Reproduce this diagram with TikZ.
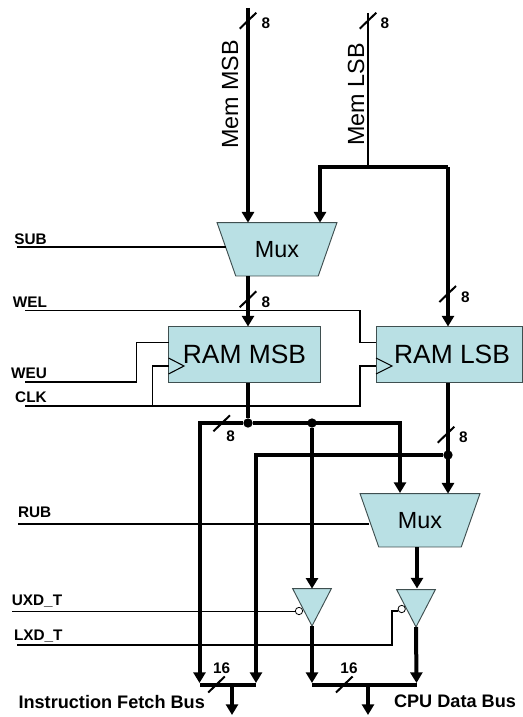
\documentclass[tikz,border=0pt]{standalone}
\usepackage{fontspec}
\setmainfont{Liberation Sans}
\usetikzlibrary{arrows.meta,shapes.geometric}
\definecolor{cellblue}{HTML}{B9E0E4}
\definecolor{celledge}{HTML}{3F4F50}

\newcommand{\slashmark}[2]{\draw[slash] (#1,#2) ++(-8.3,8) -- ++(16.6,-16);}

\begin{document}
\begin{tikzpicture}[x=0.75pt, y=-0.75pt, node distance={20mm},
    blockbox/.style={draw=celledge, fill=cellblue, line width=0.7pt, inner sep=0pt, outer sep=0pt},
    ram/.style={blockbox, rectangle, font=\fontsize{19.8pt}{22pt}\selectfont, minimum height=42pt},
    mux/.style={blockbox, trapezium, shape border rotate=180, trapezium left angle=58.5, trapezium right angle=58.5, trapezium stretches=true, minimum width=90pt, minimum height=40pt, font=\fontsize{17.5pt}{20pt}\selectfont},
    buffer/.style={blockbox, isosceles triangle, shape border rotate=270, isosceles triangle stretches=true, minimum width=29pt, minimum height=28pt, anchor=apex},
    bubble/.style={draw=black, fill=white, circle, line width=0.6pt, minimum size=5.5pt, inner sep=0pt},
    dot/.style={fill=black, circle, minimum size=7pt, inner sep=0pt},
    wire/.style={line width=1.2pt},
    bus/.style={line width=3pt},
    busin/.style={line width=3pt, -{Triangle[length=8pt, width=9pt]}},
    slash/.style={line width=1.5pt},
    memname/.style={font=\fontsize{17.5pt}{20pt}\selectfont, rotate=90},
    sig/.style={font=\fontsize{11.5pt}{13pt}\selectfont\bfseries},
    busname/.style={font=\fontsize{13.6pt}{16pt}\selectfont\bfseries}]
    \useasboundingbox (0,0) rectangle (522,717);

    % blocks
    \node[mux] (muxu) at (277,249.3) {Mux};
    \node[mux] (muxl) at (420,520.3) {Mux};
    \node[ram, minimum width=114pt] (rammsb) at (244.5,354.5) {RAM MSB};
    \node[ram, minimum width=109.5pt] (ramlsb) [right of=rammsb, node distance=153.4pt] {\hspace*{4.5pt}RAM LSB};
    \node[buffer] (bufu) at (312,626) {};
    \node[buffer] (bufl) at (416,627) {};
    \node[bubble] (bubu) at (299,611) {};
    \node[bubble] (bubl) at (401.7,609) {};
    \draw[draw=black, line width=0.8pt] (rammsb.west |- 0,358) -- (184,366) -- (rammsb.west |- 0,374);
    \draw[draw=black, line width=0.8pt] (ramlsb.west |- 0,358) -- (392,366) -- (ramlsb.west |- 0,374);

    % ends of the connectors
    \coordinate (msbtop) at (248,8);
    \coordinate (lsbtop) at (368,13);
    \coordinate (lsbtee) at (368,167);
    \coordinate (lsbbus) at (320,167);
    \coordinate (lsbram) at (448,167);
    \coordinate (subin) at (17,247);
    \coordinate (welin) at (25,310.5);
    \coordinate (welturn) at (360,342.5);
    \coordinate (weuin) at (25,382);
    \coordinate (weuturn) at (136.5,342.5);
    \coordinate (clkin) at (25,406);
    \coordinate (clkturn) at (360,366);
    \coordinate (clkup) at (152.5,366);
    \coordinate (rubin) at (18,524);
    \coordinate (uxdin) at (12,611.5);
    \coordinate (lxdin) at (17,645);
    \coordinate (lxdturn) at (392,611);
    \node[dot] (dotm) at (248,423) {};
    \node[dot] (dotb) at (312,423) {};
    \node[dot] (dotl) at (448,455) {};
    \coordinate (muxa) at (400,493);
    \coordinate (muxout) at (417,547);
    \coordinate (bufin) at (417,588.5);
    \coordinate (fetchl) at (199.5,683);
    \coordinate (fetchr) at (256,683);
    \coordinate (datal) at (312,683);
    \coordinate (datar) at (416.5,683);
    \coordinate (fetchbus) at (232,685);
    \coordinate (databus) at (368,685);
    \coordinate (fetchout) at (232,715);
    \coordinate (dataout) at (368,715);

    % upper part
    \draw[busin] (msbtop) -- (msbtop |- muxu.north);
    \draw[line width=1.9pt] (lsbtop) -- (lsbtee);
    \draw[busin] (lsbram) -- (lsbbus) -- (lsbbus |- muxu.north);
    \draw[busin] (lsbram) -- (lsbram |- ramlsb.north);
    \draw[busin] (msbtop |- muxu.south) -- (msbtop |- rammsb.north);

    % control wires
    \draw[wire] (subin) -- (subin -| muxu.west);
    \draw[wire] (welin) -| (welturn) -- (welturn -| ramlsb.west);
    \draw[wire] (weuin) -| (weuturn) -- (weuturn -| rammsb.west);
    \draw[wire] (clkin) -| (clkturn) -- (clkturn -| ramlsb.west);
    \draw[wire] (clkin -| clkup) -- (clkup) -- (clkup -| rammsb.west);
    \draw[wire] (rubin) -- (rubin -| muxl.west);
    \draw[wire] (uxdin) -- (bubu.west |- uxdin);
    \draw[wire] (lxdin) -| (lxdturn) -- (bubl.west |- lxdturn);

    % lower part
    \draw[bus] (rammsb.south -| dotm) -- (dotm);
    \draw[busin] (dotm) -| (fetchl);
    \draw[busin] (dotm) -| (muxa);
    \draw[busin] (dotb) -- (dotb |- bufu.north);
    \draw[busin] (ramlsb.south -| lsbram) -- (lsbram |- muxl.north);
    \draw[busin] (dotl) -| (fetchr);
    \draw[busin] (muxout) -- (bufin);
    \draw[busin] (bufu.south) -- (datal);
    \draw[busin] (bufl.south) -- (datar);
    \draw[bus] (fetchl |- fetchbus) -- (fetchr |- fetchbus);
    \draw[bus] (datal |- databus) -- (datar |- databus);
    \draw[busin] (fetchbus) -- (fetchout);
    \draw[busin] (databus) -- (dataout);

    % bus width marks
    \slashmark{248}{20.7}
    \slashmark{368}{20.7}
    \slashmark{248}{299.3}
    \slashmark{447.7}{294}
    \slashmark{221.7}{423.3}
    \slashmark{446}{434.7}
    \slashmark{216.5}{684.5}
    \slashmark{344.3}{684.5}

    % labels
    \node[memname] (memm) at (230,94.5) {Mem MSB};
    \node[memname] (meml) at (356,94.5) {Mem LSB};
    \node[sig] (w1) at (266,23.7) {8};
    \node[sig] (w2) at (385,23.7) {8};
    \node[sig] (w3) at (266,302.3) {8};
    \node[sig] (w4) at (465.3,297.3) {8};
    \node[sig] (w5) at (230.7,436.7) {8};
    \node[sig] (w6) at (463.3,437.3) {8};
    \node[sig] (w7) at (221.7,668.7) {16};
    \node[sig] (w8) at (349,668.7) {16};
    \node[sig] (sub) at (30.5,239) {SUB};
    \node[sig] (wel) at (30,302) {WEL};
    \node[sig] (weu) at (29,373.7) {WEU};
    \node[sig] (clk) at (31,397.7) {CLK};
    \node[sig] (rub) at (34.7,512.7) {RUB};
    \node[sig] (uxd) at (37,601) {UXD\_T};
    \node[sig] (lxd) at (38.3,636.3) {LXD\_T};
    \node[busname] (ifb) at (111.7,702) {Instruction Fetch Bus};
    \node[busname] (cdb) at (455,701.7) {CPU Data Bus};
\end{tikzpicture}
\end{document}
